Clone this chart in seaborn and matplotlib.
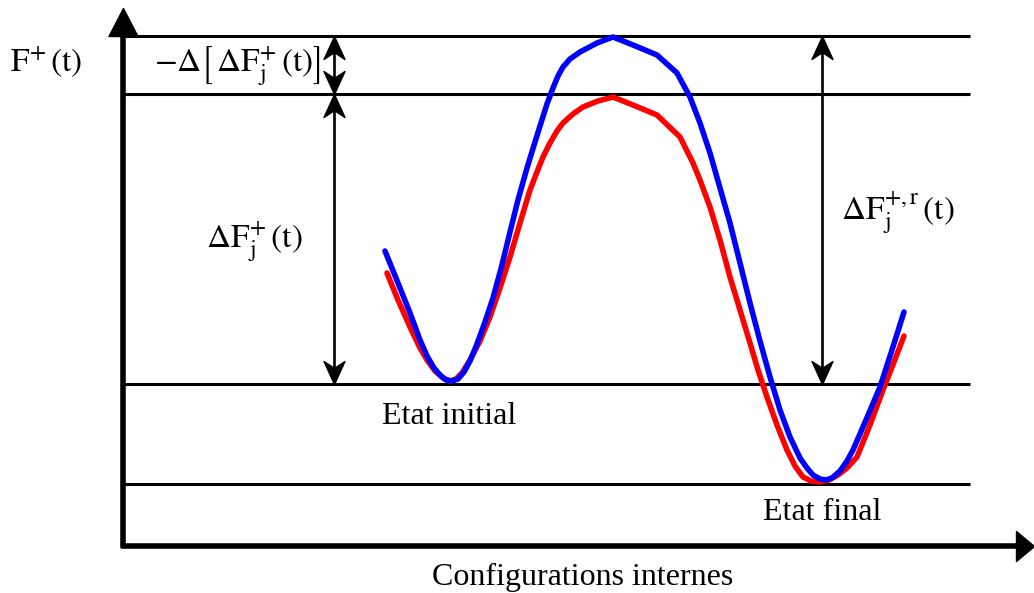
import numpy as np
import matplotlib
matplotlib.use("Agg")
import matplotlib.pyplot as plt
import seaborn as sns
from matplotlib.path import Path
from matplotlib.markers import MarkerStyle

# ---------------- data (picture units: x to the right, y downward) ----------
blue_x = [385, 398, 410, 420, 427, 434, 440, 446, 452, 458, 464, 470, 477, 485,
          493, 502, 510, 518, 527, 535, 540, 547, 553, 558, 563, 570, 580, 597,
          613, 633, 657, 677, 690, 700, 710, 720, 730, 740, 750, 760, 770, 780,
          790, 800, 807, 813, 820, 826, 832, 840, 847, 853, 866, 880, 892, 904]
blue_y = [251, 283, 313, 340, 356, 368, 375, 380, 381, 379, 372, 361, 344, 322,
          298, 265, 232, 200, 168, 142, 126, 104, 88, 76, 67, 59, 52, 43,
          37, 45, 55, 73, 97, 123, 153, 188, 223, 263, 303, 341, 377, 410,
          437, 458, 468, 475, 479, 480, 478, 471, 461, 450, 420, 387, 350, 312]

red_x = [387, 398, 410, 420, 427, 435, 443, 450, 456, 462, 470, 480, 490, 500,
         510, 520, 530, 537, 543, 550, 557, 563, 573, 583, 598, 613, 633, 657,
         680, 693, 700, 710, 720, 730, 740, 750, 758, 767, 777, 787, 795, 803,
         811, 820, 829, 838, 847, 857, 870, 883, 894, 904]
red_y = [273, 300, 327, 348, 360, 371, 378, 381, 379, 373, 360, 341, 317, 288,
         257, 223, 190, 172, 157, 143, 131, 123, 114, 107, 101, 97, 105, 115,
         137, 163, 180, 207, 240, 277, 310, 343, 370, 397, 425, 450, 466, 477,
         481, 482, 480, 475, 468, 457, 425, 390, 362, 336]

levels = [36, 94, 384, 484]          # horizontal reference levels
level_x = [123, 970]                 # extent of the level lines

arrow_x = [334, 334, 822]            # double arrows
arrow_y0 = [36, 94, 36]
arrow_y1 = [94, 384, 384]

axis_origin = (123, 546)
axis_xend = 1034
axis_ytop = 8

labels = [
    r"$-\Delta\left[\,\Delta\mathrm{F}_{\mathrm{j}}^{+}\,\left(\mathrm{t}\right)\right]$",
    r"$\Delta\mathrm{F}_{\mathrm{j}}^{+}\,\left(\mathrm{t}\right)$",
    r"$\Delta\mathrm{F}_{\mathrm{j}}^{+,\mathrm{r}}\,\left(\mathrm{t}\right)$",
    r"$\mathrm{F}^{+}\,\left(\mathrm{t}\right)$",
]
label_pos = [(238, 66), (254, 242), (898, 213), (46, 62)]

plain_labels = ["Etat initial", "Etat final", "Configurations internes"]
plain_pos = [(449, 416), (822, 513), (583, 577)]

# ---------------- style ----------------
sns.set_theme(style="white")
plt.rcParams["font.family"] = ["Liberation Serif", "DejaVu Serif"]
plt.rcParams["mathtext.fontset"] = "stix"

fig = plt.figure(figsize=(10.34, 5.93), dpi=100)
ax = fig.add_axes([0, 0, 1, 1])
ax.set_xlim(0, 1034)
ax.set_ylim(593, 0)
ax.axis("off")


def head_marker(direction, length, width, notch=None):
    """Arrow head with its tip at the origin; sizes in pixels."""
    hw = width / 2.0
    if notch is None:
        verts = np.array([(0, 0), (-hw, -length), (hw, -length), (0, 0)], float)
    else:
        verts = np.array([(0, 0), (-hw, -length), (0, -notch * length),
                          (hw, -length), (0, 0)], float)
    ang = {"up": 0, "down": 180, "right": -90, "left": 90}[direction]
    t = np.deg2rad(ang)
    R = np.array([[np.cos(t), -np.sin(t)], [np.sin(t), np.cos(t)]])
    verts = verts @ R.T
    codes = [Path.MOVETO] + [Path.LINETO] * (len(verts) - 2) + [Path.CLOSEPOLY]
    m = np.max(np.abs(verts))
    ms = 2 * m * 72.0 / 100.0
    return MarkerStyle(Path(verts, codes)), ms


# level lines
for lv in levels:
    ax.plot(level_x, [lv, lv], color="black", lw=2.2, solid_capstyle="butt", zorder=2)

# curves
sns.lineplot(x=red_x, y=red_y, sort=False, color="#ff0000", lw=4.0, ax=ax,
             zorder=4, estimator=None)
sns.lineplot(x=blue_x, y=blue_y, sort=False, color="#0000ff", lw=4.0, ax=ax,
             zorder=5, estimator=None)

# axes with arrows
ox, oy = axis_origin
ax.plot([ox, ox], [oy + 2, axis_ytop + 20], color="black", lw=4.0,
        solid_capstyle="butt", zorder=6)
ax.plot([ox - 2, axis_xend - 12], [oy, oy], color="black", lw=4.0,
        solid_capstyle="butt", zorder=6)
mk, ms = head_marker("up", 28, 29)
ax.plot([ox], [axis_ytop], marker=mk, ms=ms, color="black", zorder=7, lw=0)
mk, ms = head_marker("right", 18, 30)
ax.plot([axis_xend], [oy], marker=mk, ms=ms, color="black", zorder=7, lw=0)

# double arrows
for xa, y0, y1 in zip(arrow_x, arrow_y0, arrow_y1):
    ax.plot([xa, xa], [y0 + 8, y1 - 8], color="black", lw=1.9, zorder=3)
    mk, ms = head_marker("up", 23, 21, notch=0.7)
    ax.plot([xa], [y0], marker=mk, ms=ms, color="black", lw=0, zorder=3)
    mk, ms = head_marker("down", 23, 21, notch=0.7)
    ax.plot([xa], [y1], marker=mk, ms=ms, color="black", lw=0, zorder=3)

# labels
for txt, (x, y) in zip(labels, label_pos):
    ax.text(x, y, txt, fontsize=24, ha="center", va="center", color="black")
for txt, (x, y) in zip(plain_labels, plain_pos):
    ax.text(x, y, txt, fontsize=23, ha="center", va="center", color="black")

fig.savefig("out.png", dpi=100)
